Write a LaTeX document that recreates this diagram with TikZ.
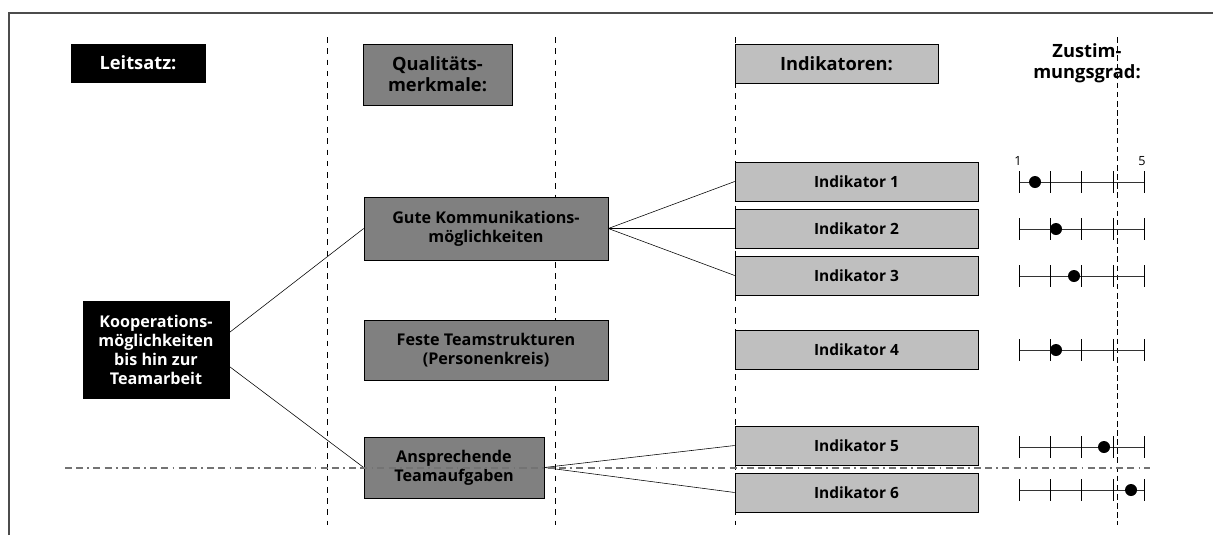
\documentclass[tikz,border=0pt]{standalone}
\usepackage{fontspec}
\setmainfont{Open Sans}
\usetikzlibrary{positioning}

\definecolor{merkgray}{gray}{0.5}
\definecolor{indgray}{gray}{0.75}

\tikzset{
	box/.style={draw=black, thin, inner sep=0pt, align=center, font=\bfseries\fontsize{11.5}{13.5}\selectfont},
	leitbox/.style={box, fill=black, text=white},
	merkbox/.style={box, fill=merkgray},
	indbox/.style={box, fill=indgray, minimum width=6.075cm, minimum height=0.975cm, font=\bfseries\fontsize{11}{13}\selectfont},
	headfont/.style={font=\bfseries\fontsize{13}{15}\selectfont},
	colline/.style={black, thin, dash pattern=on 4pt off 4pt},
	link/.style={black, thin}
}

\begin{document}
\begin{tikzpicture}[x=0.025cm, y=-0.025cm]
	\useasboundingbox (0,0) rectangle (1213,535);
	\draw[gray!60!black, line width=0.8pt] (9,535) -- (9,13) -- (1213,13);

	\foreach \x in {327, 555, 735}
		\draw[colline] (\x,37) -- (\x,525);
	\draw[black, thin, dash pattern=on 4pt off 2.5pt] (1117,37) -- (1117,525);

	% column headers
	\node[leitbox, headfont, minimum width=3.35cm, minimum height=0.95cm] (leit) at (138,63) {Leitsatz:};
	\node[merkbox, headfont, minimum width=3.725cm, minimum height=1.525cm] (merk) at (437.5,74.5) {Qualitäts-\\merkmale:};
	\node[box, fill=indgray, headfont, minimum width=5.075cm, minimum height=0.975cm] (indhead) at (836.5,63.5) {Indikatoren:};
	\node[headfont, align=center, inner sep=0pt] (zust) at (1087,63) {Zustim-\\mungsgrad:};

	% tree
	\node[leitbox, minimum width=3.65cm, minimum height=2.425cm] (koop) at (156,349.5) {Kooperations-\\möglichkeiten\\bis hin zur\\Teamarbeit};
	\node[merkbox, minimum width=6.1cm, minimum height=1.575cm] (gute) at (486,228.5) {Gute Kommunikations-\\möglichkeiten};
	\node[merkbox, minimum width=6.1cm, minimum height=1.5cm] (feste) at (486,350) {Feste Teamstrukturen\\(Personenkreis)};
	\node[merkbox, minimum width=4.5cm, minimum height=1.525cm] (anspr) at (454,467.5) {Ansprechende\\Teamaufgaben};

	\foreach \i/\y in {1/181.5, 2/228.5, 3/275.5, 4/349.5, 5/445.5, 6/492.5}
		\node[indbox] (ind\i) at (856.5,\y) {Indikator \i};

	\draw[link] (koop.13) -- (gute.west);
	\draw[link] (koop.-13) -- (anspr.west);
	\foreach \i in {1,2,3}
		\draw[link] (gute.east) -- (ind\i.west);
	\foreach \i in {5,6}
		\draw[link] (anspr.east) -- (ind\i.west);

	% scales
	\foreach \y/\d in {182/1035, 229/1056, 276/1074, 350/1056, 447/1104, 490/1131} {
		\draw[gray!40!black, thin] (1019,\y) -- (1144,\y);
		\foreach \t in {1019, 1050, 1081, 1113, 1144}
			\draw[black, thin] (\t,\y-11) -- (\t,\y+11);
		\fill[black] (\d,\y) circle [radius=0.15cm];
	}
	\node[font=\fontsize{9}{10}\selectfont, inner sep=0pt] (eins) at (1018,161) {1};
	\node[font=\fontsize{9}{10}\selectfont, inner sep=0pt] (fuenf) at (1142,161) {5};

	\draw[gray!90!black, line width=1pt, dash pattern=on 5pt off 3pt on 5pt off 3pt on 1.2pt off 3pt] (65,468) -- (1150,468);
\end{tikzpicture}
\end{document}
